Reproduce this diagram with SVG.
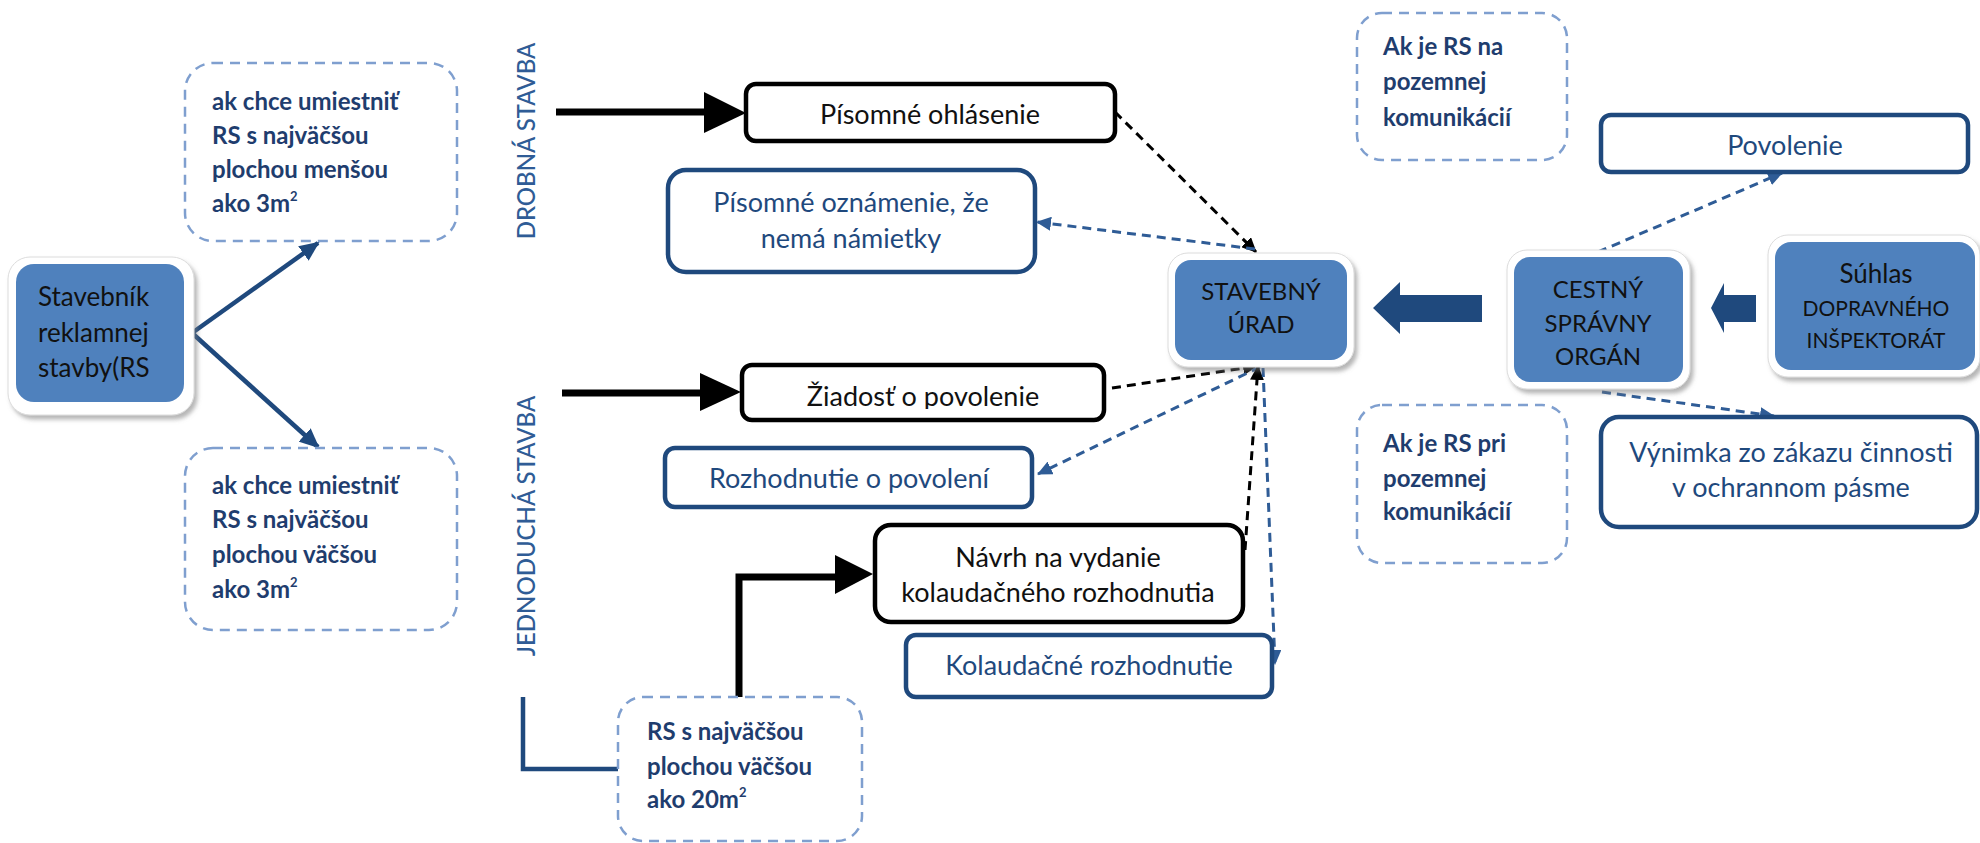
<svg xmlns="http://www.w3.org/2000/svg" width="1980" height="843" viewBox="0 0 1980 843">
<style>
text{font-family:Lato,"Noto Sans","Liberation Sans",sans-serif}
.blue{fill:#4F81BD}
.glow{fill:#ffffff;stroke:#dcdcdc;stroke-width:1}
.dash{fill:#ffffff;stroke:#7F9FCF;stroke-width:2.5;stroke-dasharray:10 7}
.bk{fill:#ffffff;stroke:#000000;stroke-width:4.5}
.bl{fill:#ffffff;stroke:#1F497D;stroke-width:4.5}
.t{font-size:26px;fill:#111111}
.tc{font-size:27px;fill:#111111;text-anchor:middle}
.tu{font-size:24px;fill:#111111;text-anchor:middle}
.tb{font-size:27px;fill:#1F497D;text-anchor:middle}
.bold{font-size:24px;font-weight:bold;fill:#1F3D6E}
.sup{font-size:13px;font-weight:bold;fill:#1F3D6E}
.vert{font-size:24px;font-weight:500;fill:#2F5C96;text-anchor:middle}
.cblk{fill:none;stroke:#000000;stroke-width:3;stroke-dasharray:9 6}
.cblu{fill:none;stroke:#2F5C96;stroke-width:3;stroke-dasharray:9 6}
.thick{fill:none;stroke:#000000;stroke-width:7}
.navy{fill:none;stroke:#1F497D;stroke-width:4.5}
</style>
<defs>
<filter id="sh" x="-10%" y="-10%" width="125%" height="130%">
<feDropShadow dx="3" dy="4" stdDeviation="2" flood-color="#7a7a7a" flood-opacity="0.55"/>
</filter>
<marker id="mBk" markerUnits="userSpaceOnUse" markerWidth="16" markerHeight="14" refX="14" refY="7" orient="auto">
<path d="M0,0 L15,7 L0,14 Z" fill="#000000"/>
</marker>
<marker id="mBl" markerUnits="userSpaceOnUse" markerWidth="16" markerHeight="14" refX="14" refY="7" orient="auto">
<path d="M0,0 L15,7 L0,14 Z" fill="#2F5C96"/>
</marker>
<marker id="mNv" markerUnits="userSpaceOnUse" markerWidth="20" markerHeight="18" refX="18" refY="9" orient="auto">
<path d="M0,0 L20,9 L0,18 Z" fill="#1F497D"/>
</marker>
<clipPath id="clipZ"><rect x="742" y="365" width="362" height="44"/></clipPath>
</defs>
<rect width="1980" height="843" fill="#ffffff"/>

<g id="connectors">
<line class="navy" x1="192" y1="333" x2="318" y2="243" marker-end="url(#mNv)"/>
<line class="navy" x1="192" y1="333" x2="318" y2="447" marker-end="url(#mNv)"/>
<line class="thick" x1="556" y1="112" x2="706" y2="112"/>
<polygon points="704,92 746,113 704,133" fill="#000000"/>
<line class="thick" x1="562" y1="393" x2="702" y2="393"/>
<polygon points="700,373 741,392 700,411" fill="#000000"/>
<path class="thick" d="M739,698 V577 H838"/>
<polygon points="835,555 873,574 835,594" fill="#000000"/>
<path class="navy" d="M523,697 V769 H618"/>
<line class="cblk" x1="1115" y1="112" x2="1256" y2="252" marker-end="url(#mBk)"/>
<line class="cblu" x1="1255" y1="249" x2="1037" y2="222" marker-end="url(#mBl)"/>
<line class="cblk" x1="1112" y1="388" x2="1257" y2="366" marker-end="url(#mBk)"/>
<line class="cblu" x1="1260" y1="367" x2="1038" y2="474" marker-end="url(#mBl)"/>
<line class="cblk" x1="1245" y1="550" x2="1258" y2="366" marker-end="url(#mBk)"/>
<line class="cblu" x1="1263" y1="368" x2="1275" y2="664" marker-end="url(#mBl)"/>
<line class="cblu" x1="1598" y1="252" x2="1782" y2="173" marker-end="url(#mBl)"/>
<line class="cblu" x1="1602" y1="392" x2="1774" y2="416" marker-end="url(#mBl)"/>
<polygon points="1373,308 1400,282 1400,295 1482,295 1482,322 1400,322 1400,334" fill="#1F497D"/>
<polygon points="1711,308 1724,283 1724,295 1756,295 1756,322 1724,322 1724,333" fill="#1F497D"/>
</g>

<g id="stavebnik">
<rect class="glow" x="8" y="257" width="186" height="158" rx="22" filter="url(#sh)"/>
<rect class="blue" x="16" y="264" width="168" height="138" rx="18"/>
<text class="t" x="38" y="306">Stavebník</text>
<text class="t" x="38" y="342">reklamnej</text>
<text class="t" x="38" y="377">stavby(RS</text>
</g>

<g id="mensou">
<rect class="dash" x="185" y="63" width="272" height="178" rx="28"/>
<text class="bold" x="212" y="110">ak chce umiestniť</text>
<text class="bold" x="212" y="144">RS s najväčšou</text>
<text class="bold" x="212" y="178">plochou menšou</text>
<text class="bold" x="212" y="212">ako 3m<tspan class="sup" dy="-11">2</tspan></text>
</g>

<g id="vacsou">
<rect class="dash" x="185" y="448" width="272" height="182" rx="28"/>
<text class="bold" x="212" y="494">ak chce umiestniť</text>
<text class="bold" x="212" y="528">RS s najväčšou</text>
<text class="bold" x="212" y="563">plochou väčšou</text>
<text class="bold" x="212" y="598">ako 3m<tspan class="sup" dy="-11">2</tspan></text>
</g>

<g id="drobna">
<text class="vert" transform="translate(535,141) rotate(-90)">DROBNÁ STAVBA</text>
</g>
<g id="jednoducha">
<text class="vert" transform="translate(535,526) rotate(-90)">JEDNODUCHÁ STAVBA</text>
</g>

<g id="ohlasenie">
<rect class="bk" x="746" y="84" width="369" height="57" rx="10"/>
<text class="tc" x="930" y="124">Písomné ohlásenie</text>
</g>

<g id="oznamenie">
<rect class="bl" x="668" y="170" width="367" height="102" rx="18"/>
<text class="tb" x="851" y="212">Písomné oznámenie, že</text>
<text class="tb" x="851" y="248">nemá námietky</text>
</g>

<g id="ziadost">
<rect class="bk" x="742" y="365" width="362" height="55" rx="10"/>
<text class="tc" x="923" y="406" clip-path="url(#clipZ)">Žiadosť o povolenie</text>
</g>

<g id="rozhodnutie">
<rect class="bl" x="665" y="448" width="367" height="59" rx="10"/>
<text class="tb" x="849" y="488">Rozhodnutie o povolení</text>
</g>

<g id="navrh">
<rect class="bk" x="875" y="525" width="368" height="97" rx="16"/>
<text class="tc" x="1058" y="567">Návrh na vydanie</text>
<text class="tc" x="1058" y="602">kolaudačného rozhodnutia</text>
</g>

<g id="kolaudacne">
<rect class="bl" x="906" y="635" width="366" height="62" rx="10"/>
<text class="tb" x="1089" y="675">Kolaudačné rozhodnutie</text>
</g>

<g id="rs20">
<rect class="dash" x="618" y="697" width="244" height="144" rx="25"/>
<text class="bold" x="647" y="740">RS s najväčšou</text>
<text class="bold" x="647" y="775">plochou väčšou</text>
<text class="bold" x="647" y="808">ako 20m<tspan class="sup" dy="-11">2</tspan></text>
</g>

<g id="stavebny-urad">
<rect class="glow" x="1168" y="253" width="186" height="114" rx="20" filter="url(#sh)"/>
<rect class="blue" x="1175" y="260" width="172" height="100" rx="16"/>
<text class="tu" x="1261" y="300">STAVEBNÝ</text>
<text class="tu" x="1261" y="333">ÚRAD</text>
</g>

<g id="cestny">
<rect class="glow" x="1507" y="250" width="183" height="139" rx="20" filter="url(#sh)"/>
<rect class="blue" x="1514" y="257" width="169" height="125" rx="16"/>
<text class="tu" x="1598" y="298">CESTNÝ</text>
<text class="tu" x="1598" y="332">SPRÁVNY</text>
<text class="tu" x="1598" y="365">ORGÁN</text>
</g>

<g id="suhlas">
<rect class="glow" x="1768" y="235" width="212" height="142" rx="20" filter="url(#sh)"/>
<rect class="blue" x="1775" y="242" width="200" height="128" rx="16"/>
<text class="tu" x="1876" y="283" style="font-size:26px">Súhlas</text>
<text class="tu" x="1876" y="316" style="font-size:21px">DOPRAVNÉHO</text>
<text class="tu" x="1876" y="348" style="font-size:21px">INŠPEKTORÁT</text>
</g>

<g id="ak-na">
<rect class="dash" x="1357" y="13" width="210" height="147" rx="25"/>
<text class="bold" x="1383" y="55">Ak je RS na</text>
<text class="bold" x="1383" y="90">pozemnej</text>
<text class="bold" x="1383" y="126">komunikácií</text>
</g>

<g id="ak-pri">
<rect class="dash" x="1357" y="405" width="210" height="158" rx="25"/>
<text class="bold" x="1383" y="452">Ak je RS pri</text>
<text class="bold" x="1383" y="487">pozemnej</text>
<text class="bold" x="1383" y="520">komunikácií</text>
</g>

<g id="povolenie">
<rect class="bl" x="1601" y="115" width="367" height="57" rx="10"/>
<text class="tb" x="1785" y="155">Povolenie</text>
</g>

<g id="vynimka">
<rect class="bl" x="1601" y="417" width="376" height="110" rx="18"/>
<text class="tb" x="1791" y="462">Výnimka zo zákazu činnosti</text>
<text class="tb" x="1791" y="497">v ochrannom pásme</text>
</g>
</svg>
